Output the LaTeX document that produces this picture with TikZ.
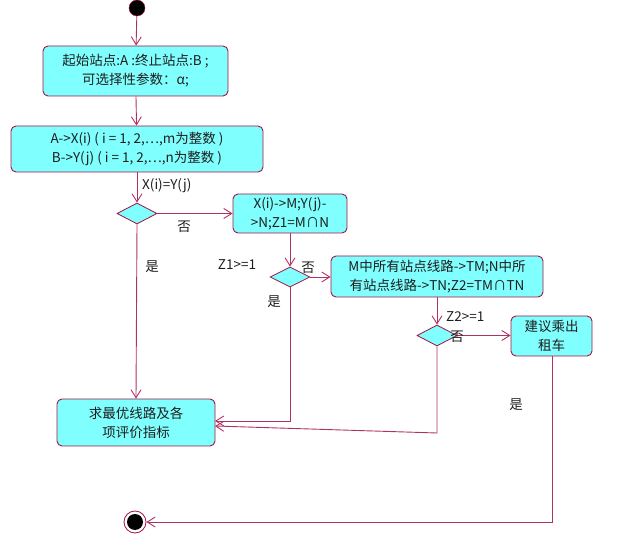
\documentclass[tikz,border=0pt]{standalone}
\usepackage{fontspec}
\setmainfont{Noto Sans CJK SC}
\usetikzlibrary{shapes.geometric,arrows.meta}
\definecolor{bord}{RGB}{160,20,70}
\definecolor{lin}{RGB}{175,50,100}
\definecolor{fillc}{RGB}{128,255,255}
\definecolor{txt}{RGB}{30,30,30}
\begin{document}
\begin{tikzpicture}[x=1pt,y=-1pt,
  font=\fontsize{13.5}{19}\selectfont, text=txt,
  actbox/.style={draw=bord,fill=fillc,rounded corners=5pt,line width=0.9pt,align=center,inner sep=0pt},
  decbox/.style={draw=bord,fill=fillc,diamond,aspect=2,inner sep=0pt,line width=0.8pt},
  flow/.style={draw=lin,line width=0.9pt,-{Straight Barb[length=8pt,width=10pt]}},
  lbl/.style={inner sep=0pt}]
\useasboundingbox (0,0) rectangle (627,537);
% nodes
\node[circle,fill=black,draw=bord,minimum size=16pt,inner sep=0pt] (start) at (137,8) {};
\node[actbox,minimum width=185pt,minimum height=50pt] (b1) at (135.5,71) {起始站点:A :终止站点:B ;\\可选择性参数：α;};
\node[actbox,minimum width=252pt,minimum height=46pt] (b2) at (137,149) {A->X(i) ( i = 1, 2,…,m为整数 )\\B->Y(j) ( i = 1, 2,…,n为整数 )};
\node[decbox,minimum width=40pt,minimum height=21pt] (d1) at (137,213.5) {};
\node[actbox,minimum width=114pt,minimum height=39pt] (b3) at (290,213.5) {X(i)->M;Y(j)-\\>N;Z1=M∩N};
\node[decbox,minimum width=40pt,minimum height=20pt] (d2) at (290,277) {};
\node[actbox,minimum width=212pt,minimum height=41pt] (b4) at (437,276.5) {M中所有站点线路->TM;N中所\\有站点线路->TN;Z2=TM∩TN};
\node[decbox,minimum width=40pt,minimum height=21pt] (d3) at (437,335.5) {};
\node[actbox,minimum width=81pt,minimum height=40pt] (b5) at (551.5,336) {建议乘出\\租车};
\node[actbox,minimum width=158pt,minimum height=47pt] (b6) at (136,422.5) {求最优线路及各\\项评价指标};
\node[circle,draw=bord,fill=white,minimum size=22pt,inner sep=0pt,line width=0.8pt] (end) at (135,522) {};
\fill[black] (end.center) circle (8pt);
% helper coordinates
\coordinate (c2) at (290,421);
\coordinate (c3a) at (437,433);
\coordinate (c6a) at (215,421);
\coordinate (c6b) at (215,426);
\coordinate (c5) at (552,522);
% connectors
\draw[flow] (start) -- (b1);
\draw[flow] (b1) -- (b2);
\draw[flow] (b2) -- (d1);
\draw[flow] (d1.east) -- (b3.west);
\draw[flow] (d1.south) -- (b6.north);
\draw[flow] (b3.south) -- (d2.north);
\draw[flow] (d2.east) -- (b4.west |- d2.east);
\draw[flow] (d2.south) -- (c2) -- (c6a);
\draw[flow] (b4.south) -- (d3.north);
\draw[flow] (d3.east) -- (b5.west |- d3.east);
\draw[flow] (d3.south) -- (c3a) -- (c6b);
\draw[flow] (b5.south -| c5) -- (c5) -- (end.east);
% labels
\node[lbl,anchor=west] (l1) at (142,186) {X(i)=Y(j)};
\node[lbl] (l2) at (184,227) {否};
\node[lbl] (l3) at (152,267) {是};
\node[lbl] (l4) at (237,265) {Z1>=1};
\node[lbl] (l5) at (308,268) {否};
\node[lbl] (l6) at (274,302) {是};
\node[lbl,anchor=west] (l7) at (446,317) {Z2>=1};
\node[lbl] (l8) at (457,337) {否};
\node[lbl] (l9) at (516,405) {是};
\end{tikzpicture}
\end{document}
